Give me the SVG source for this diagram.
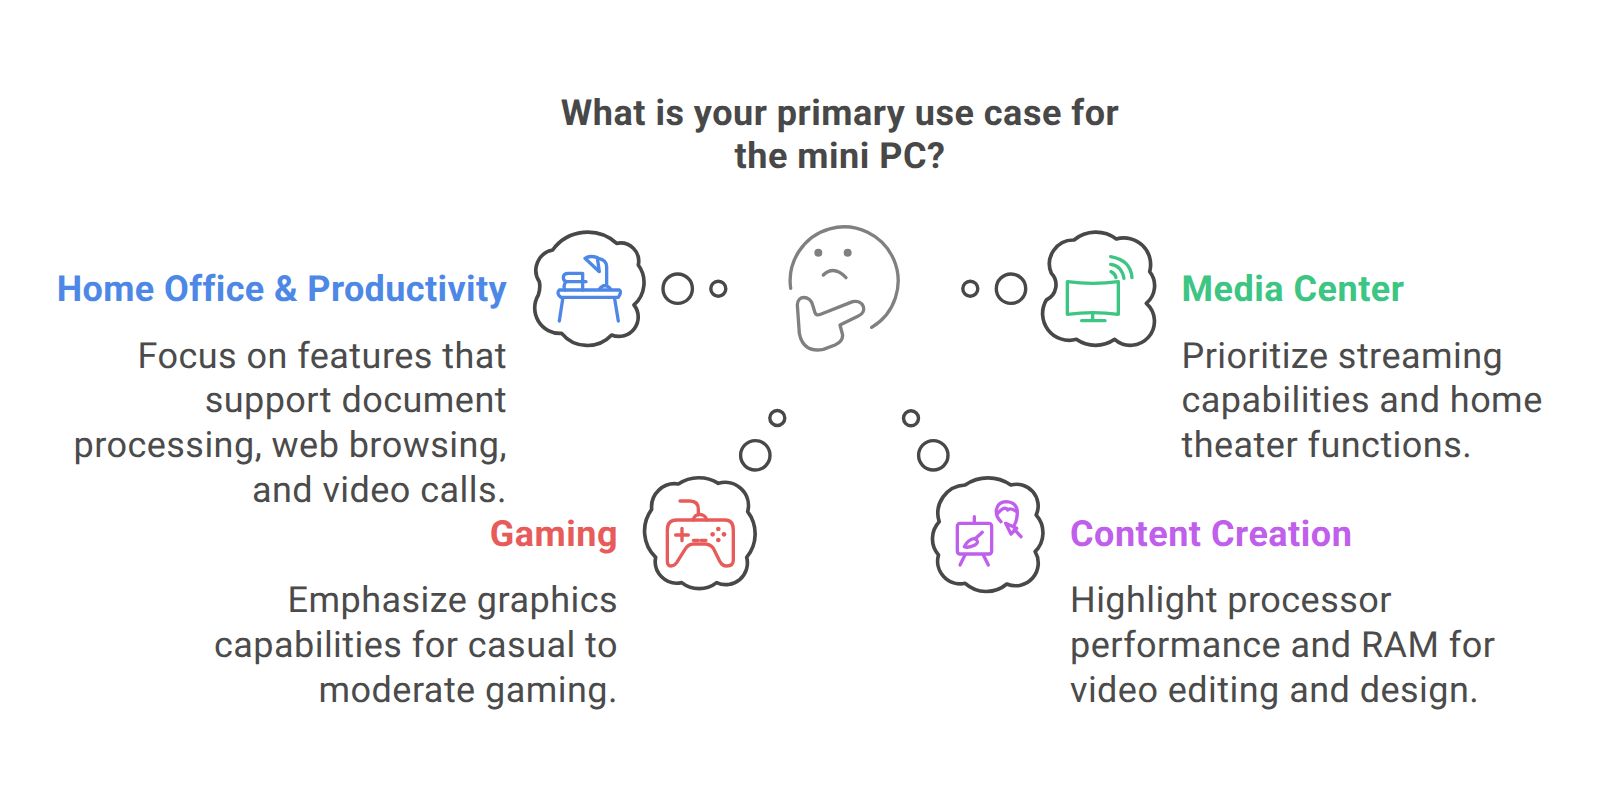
<svg xmlns="http://www.w3.org/2000/svg" width="1600" height="800" viewBox="0 0 1600 800">
<style>
text{font-family:Roboto,"Liberation Sans",sans-serif;font-size:36px;fill:#4b4b4b;text-rendering:geometricPrecision;letter-spacing:.46px}
.t{font-weight:700;text-anchor:middle;fill:#484848;letter-spacing:.5px}
.h{font-weight:700;letter-spacing:.5px}
.e{text-anchor:end}
.b{fill:none;stroke:#484848;stroke-width:3.4}
.cl{fill:none;stroke:#484848;stroke-width:11;stroke-linejoin:round}
.ic{fill:none;stroke-width:10;stroke-linecap:round;stroke-linejoin:round}
.blue{stroke:#4E88E7}.green{stroke:#3CC583}.red{stroke:#E85B5B}.pur{stroke:#BF5FEB}
.face{fill:none;stroke:#808080;stroke-width:10;stroke-linecap:round;stroke-linejoin:round}
</style>
<rect width="1600" height="800" fill="#fff"/>
<g id="title">
<text class="t" x="840" y="124.5">What is your primary use case for</text>
<text class="t" x="840" y="168">the mini PC?</text>
</g>
<g id="center-face" transform="translate(760,210) scale(.3333)">
<path class="face" d="M92 235A162 162 0 1 1 335 352"/>
<circle cx="175" cy="128" r="12" fill="#808080"/>
<circle cx="263" cy="128" r="12" fill="#808080"/>
<path class="face" d="M190 195Q222 165 258 203"/>
<path class="face" d="M112 285C112 255 150 255 158 285L165 308Q170 318 182 313L278 275C310 268 325 305 295 318L240 345L248 375Q248 395 225 405L190 418Q130 430 118 370Z"/>
</g>
<g id="connectors">
<circle class="b" cx="677.7" cy="288.7" r="14.7"/>
<circle class="b" cx="718.3" cy="288.7" r="7.5"/>
<circle class="b" cx="970.3" cy="288.7" r="7.5"/>
<circle class="b" cx="1011" cy="288.7" r="14.7"/>
<circle class="b" cx="777.3" cy="418" r="7.5"/>
<circle class="b" cx="755.3" cy="455.3" r="14.7"/>
<circle class="b" cx="911" cy="418.3" r="7.5"/>
<circle class="b" cx="933.3" cy="455.3" r="14.7"/>
</g>
<g id="node-home-office">
<g transform="translate(510,210) scale(.3333)">
<path class="cl" d="M128 120A130 130 0 0 1 320 100A55 55 0 0 1 385 165A90 90 0 0 1 372 285A58 58 0 0 1 305 375A100 100 0 0 1 155 370A76 76 0 0 1 85 255Q92 235 88 215A62 62 0 0 1 128 120Z"/>
<g class="ic blue">
<path d="M148 240H328Q336 245 325 262H152Q138 250 148 240Z"/>
<path d="M158 268L148 333M314 266L325 333"/>
<path d="M218 240V190H175Q160 190 160 203Q160 215 175 215H228M168 215Q158 228 165 240"/>
<path d="M268 238Q285 215 302 238M290 222V170Q290 150 265 145"/>
<path d="M225 145Q240 135 262 143L268 185Z"/>
</g>
</g>
<text class="h e" x="507" y="300.7" style="fill:#4E88E7;letter-spacing:.38px">Home Office &amp; Productivity</text>
<text class="e" x="507" y="367.7">Focus on features that</text>
<text class="e" x="507" y="412.3">support document</text>
<text class="e" x="507" y="456.7">processing, web browsing,</text>
<text class="e" x="507" y="501.7">and video calls.</text>
</g>
<g id="node-media-center">
<g transform="translate(1038,225) scale(.3333)">
<path class="cl" d="M108 45A103 103 0 0 1 235 42A80 80 0 0 1 335 140A68 68 0 0 1 325 235A68 68 0 0 1 230 343A100 100 0 0 1 115 343A80 80 0 0 1 25 225A50 50 0 0 0 40 145A72 72 0 0 1 108 45Z"/>
</g>
<g class="ic green" transform="translate(1040,225) scale(.3333)">
<path d="M82 170Q160 180 235 170V268Q160 258 82 268Z"/>
<path d="M158 265V287M125 287H195"/>
<path d="M213 140Q225 145 228 158M212 118Q245 122 252 160M212 95Q272 105 276 158"/>
</g>
<text class="h" x="1181.5" y="300.7" style="fill:#3CC583">Media Center</text>
<text x="1181.5" y="367.7">Prioritize streaming</text>
<text x="1181.5" y="412.3">capabilities and home</text>
<text x="1181.5" y="456.7">theater functions.</text>
</g>
<g id="node-gaming">
<g transform="translate(635,470) scale(.3333)">
<path class="cl" d="M130 42A110 110 0 0 1 250 40A70 70 0 0 1 338 125A110 110 0 0 1 335 262A65 65 0 0 1 245 338A85 85 0 0 1 140 338A65 65 0 0 1 62 262A110 110 0 0 1 50 118A70 70 0 0 1 130 42Z"/>
<g class="ic red">
<path d="M135 93H165Q190 93 190 118V135M175 150Q178 133 195 133Q212 135 215 150"/>
<path d="M125 150H270Q295 150 295 180V270Q295 288 275 288Q262 288 255 275L235 235Q225 222 210 222H175Q160 222 150 238L125 278Q118 288 108 288Q97 288 97 272V180Q97 150 125 150Z"/>
<path d="M122 195H160M141 175V212M175 211H190M198 211H213"/>
</g>
<g fill="#E85B5B"><circle cx="233" cy="193" r="7"/><circle cx="250" cy="177" r="7"/><circle cx="267" cy="193" r="7"/><circle cx="250" cy="210" r="7"/></g>
</g>
<text class="h e" x="618" y="546" style="fill:#E85B5B">Gaming</text>
<text class="e" x="618" y="612">Emphasize graphics</text>
<text class="e" x="618" y="656.7">capabilities for casual to</text>
<text class="e" x="618" y="701.5">moderate gaming.</text>
</g>
<g id="node-content-creation">
<g transform="translate(923.5,470) scale(.3333)">
<path class="cl" d="M125 45A120 120 0 0 1 262 45A65 65 0 0 1 338 135A80 80 0 0 1 335 245A68 68 0 0 1 250 342A95 95 0 0 1 125 340A68 68 0 0 1 45 255A75 75 0 0 1 47 155A85 85 0 0 1 125 45Z"/>
</g>
<g class="ic pur" transform="translate(925,470) scale(.3333)">
<rect x="97" y="160" width="103" height="92" rx="8"/>
<path d="M148 140V160M120 255L105 285M175 255L190 285M172 187L150 207"/>
<path d="M118 230Q128 208 150 205Q165 215 150 225Q130 235 118 230Z"/>
<path d="M228 155Q212 140 214 120Q218 95 245 95Q275 97 277 125Q277 150 268 165M218 130Q240 105 248 120Q255 112 275 125"/>
<path d="M242 160L275 175L258 192ZM268 178L288 200"/>
</g>
<text class="h" x="1070" y="546" style="fill:#BF5FEB">Content Creation</text>
<text x="1070" y="612">Highlight processor</text>
<text x="1070" y="656.7">performance and RAM for</text>
<text x="1070" y="701.5">video editing and design.</text>
</g>
</svg>
